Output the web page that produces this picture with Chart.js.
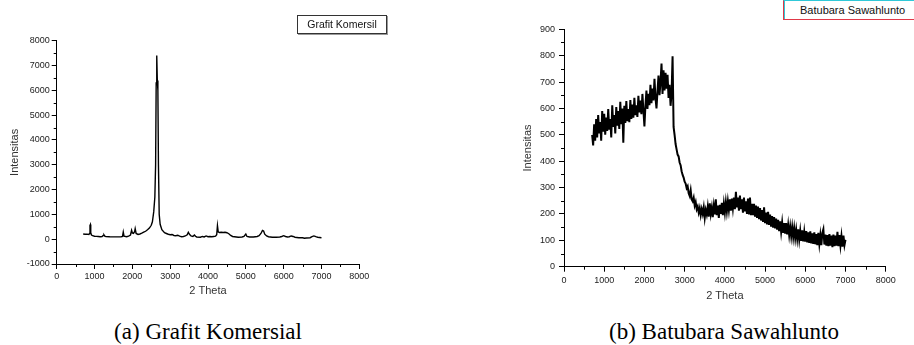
<!DOCTYPE html>
<html>
<head>
<meta charset="utf-8">
<script src="https://cdn.jsdelivr.net/npm/chart.js@4.4.1/dist/chart.umd.min.js"></script>
<style>
html,body{margin:0;padding:0;background:#fff;}
body{width:914px;height:345px;overflow:hidden;position:relative;font-family:"Liberation Sans",Arial,sans-serif;}
canvas{position:absolute;top:0;}
#c1{left:0;}
#c2{left:490px;}
.legend{position:absolute;background:#fff;white-space:nowrap;color:#111;box-sizing:border-box;}
#lg1{left:297px;top:15px;width:90px;height:19px;border:1px solid #333;box-shadow:1px 1px 0 #999;font-size:10.5px;line-height:17px;text-align:center;}
#lg2{left:783px;top:0;width:140px;height:20px;border-top:1px solid #30c8d8;border-left:1px solid #e03848;border-bottom:1px solid #e03848;box-shadow:inset 1px 0 0 #30c8d8;font-size:11px;line-height:18px;padding-left:16px;}
.cap{position:absolute;top:320px;font-family:"Liberation Serif","Times New Roman",serif;font-size:23px;line-height:23px;white-space:nowrap;transform:translateX(-50%);color:#000;}
</style>
</head>
<body>
<canvas id="c1" width="400" height="310"></canvas>
<canvas id="c2" width="424" height="310"></canvas>
<div class="legend" id="lg1">Grafit Komersil</div>
<div class="legend" id="lg2">Batubara Sawahlunto</div>
<div class="cap" style="left:208px;">(a) Grafit Komersial</div>
<div class="cap" style="left:724px;">(b) Batubara Sawahlunto</div>
<script>
// ---- Data: (a) Grafit Komersil ----
const grafitX = [
  700,750,800,850,870,880,890,900,920,950,
  1000,1050,1100,1150,1200,1230,1250,1270,1300,1400,
  1500,1600,1700,1740,1760,1780,1850,1900,1950,1980,
  2000,2030,2060,2075,2100,2150,2200,2250,2300,2350,
  2400,2450,2500,2530,2565,2595,2615,2630,2645,2660,
  2675,2690,2710,2735,2780,2850,2900,2950,3000,3050,
  3100,3150,3200,3250,3300,3350,3400,3450,3480,3510,
  3550,3600,3640,3670,3700,3800,3850,3900,3950,4000,
  4050,4100,4150,4200,4230,4250,4270,4300,4350,4400,
  4450,4500,4550,4600,4650,4700,4750,4800,4900,4950,
  5000,5030,5100,5200,5300,5350,5400,5440,5470,5500,
  5550,5600,5700,5800,5900,5950,6000,6050,6100,6150,
  6200,6250,6300,6400,6500,6550,6600,6700,6750,6800,
  6850,6900,6950,7000
];
const grafitY = [
  210,200,205,190,230,560,590,260,170,140,
  120,115,110,100,105,150,170,120,110,100,
  95,95,100,110,290,120,100,120,170,360,
  250,230,300,420,230,190,210,240,280,320,
  380,450,560,700,1100,1700,3000,6300,7400,6400,
  6000,3000,1000,600,380,260,230,200,180,190,
  150,140,160,120,100,110,130,180,280,200,
  130,110,170,120,90,80,110,90,130,100,
  110,100,110,120,180,550,300,270,280,270,
  280,260,220,150,110,100,90,80,90,110,
  210,110,90,90,110,140,230,350,330,200,
  130,100,80,80,90,110,140,110,90,100,
  130,110,80,60,60,40,50,60,100,130,
  100,80,70,60
];

// ---- Data: (b) Batubara Sawahlunto ----
const batubaraX = [
  700,725,750,775,800,825,850,875,
  900,925,950,975,1000,1025,1050,1075,
  1100,1125,1150,1175,1200,1225,1250,1275,
  1300,1325,1350,1375,1400,1425,1450,1475,
  1500,1525,1550,1575,1600,1625,1650,1675,
  1700,1725,1750,1775,1800,1825,1850,1875,
  1900,1925,1950,1975,2000,2025,2050,2075,
  2100,2125,2150,2175,2200,2225,2250,2275,
  2300,2325,2350,2375,2400,2425,2450,2475,
  2500,2525,2550,2575,2600,2625,2650,2675,
  2700,2725,2750,2775,2800,2825,2850,2875,
  2900,2925,2950,2975,3000,3025,3050,3075,
  3100,3125,3150,3175,3200,3225,3250,3275,
  3300,3325,3350,3375,3400,3425,3450,3475,
  3500,3525,3550,3575,3600,3625,3650,3675,
  3700,3725,3750,3775,3800,3825,3850,3875,
  3900,3925,3950,3975,4000,4025,4050,4075,
  4100,4125,4150,4175,4200,4225,4250,4275,
  4300,4325,4350,4375,4400,4425,4450,4475,
  4500,4525,4550,4575,4600,4625,4650,4675,
  4700,4725,4750,4775,4800,4825,4850,4875,
  4900,4925,4950,4975,5000,5025,5050,5075,
  5100,5125,5150,5175,5200,5225,5250,5275,
  5300,5325,5350,5375,5400,5425,5450,5475,
  5500,5525,5550,5575,5600,5625,5650,5675,
  5700,5725,5750,5775,5800,5825,5850,5875,
  5900,5925,5950,5975,6000,6025,6050,6075,
  6100,6125,6150,6175,6200,6225,6250,6275,
  6300,6325,6350,6375,6400,6425,6450,6475,
  6500,6525,6550,6575,6600,6625,6650,6675,
  6700,6725,6750,6775,6800,6825,6850,6875,
  6900,6925,6950,6975,7000
];
const batubaraY = [
  500,460,540,478,560,490,575,505,
  548,478,590,512,580,500,565,515,
  598,520,560,490,612,530,575,505,
  605,535,590,522,625,540,600,470,
  610,545,628,552,598,548,632,560,
  615,565,640,575,612,568,648,585,
  630,578,655,592,532,610,668,598,
  655,612,690,620,675,630,712,640,
  600,665,725,650,700,770,655,745,
  668,735,675,728,640,690,610,655,
  798,530,500,465,445,425,418,395,
  385,362,348,338,322,315,298,305,
  278,268,290,255,248,262,232,245,
  218,228,205,222,195,218,200,225,
  185,215,198,228,190,240,200,225,
  188,230,198,255,195,232,185,235,
  200,242,195,238,205,245,210,248,
  215,255,212,258,222,262,218,284,
  225,262,212,270,218,255,205,262,
  210,248,200,258,198,262,195,238,
  195,238,190,232,185,228,180,222,
  175,215,170,225,165,205,160,208,
  158,198,152,192,148,188,145,182,
  140,178,135,172,132,168,128,165,
  125,165,122,158,120,152,115,150,
  112,146,108,140,105,142,102,136,
  98,138,96,132,95,135,92,130,
  90,134,88,126,86,130,85,124,
  82,128,86,120,82,128,142,84,
  122,80,120,78,124,80,118,74,
  122,78,118,80,132,78,120,80,
  116,76,118,82,102
];

// ---- Axis settings ----
const xAxisTitle = '2 Theta';
const yAxisTitle = 'Intensitas';

const minorTicks = {
  id: 'minorTicks',
  afterDraw(chart, args, opts) {
    const ctx = chart.ctx;
    const xs = chart.scales.x, ys = chart.scales.y;
    ctx.save();
    ctx.strokeStyle = '#000';
    ctx.lineWidth = 1;
    ctx.beginPath();
    const yb = chart.chartArea.bottom;
    for (let v = xs.min + opts.xMinor; v < xs.max; v += opts.xMajor) {
      const px = Math.round(xs.getPixelForValue(v)) + 0.5;
      ctx.moveTo(px, yb); ctx.lineTo(px, yb + opts.len);
    }
    const xl = chart.chartArea.left;
    for (let v = ys.min + opts.yMinor; v < ys.max; v += opts.yMajor) {
      const py = Math.round(ys.getPixelForValue(v)) + 0.5;
      ctx.moveTo(xl, py); ctx.lineTo(xl - opts.len, py);
    }
    ctx.stroke();
    ctx.restore();
  }
};

function makeChart(id, xs, ys, cfg) {
  const pts = xs.map((x, i) => ({x: x, y: ys[i]}));
  const tickFont = {family: '"Liberation Sans", Arial, sans-serif', size: 9};
  const titleFont = {family: '"Liberation Sans", Arial, sans-serif', size: 11};
  const plain = v => String(v);
  return new Chart(document.getElementById(id), {
    type: 'scatter',
    data: {datasets: [{
      data: pts, showLine: true, borderColor: '#000', borderWidth: cfg.lw,
      pointRadius: 0, pointHoverRadius: 0, tension: 0, fill: false
    }]},
    options: {
      responsive: false, animation: false, devicePixelRatio: 1,
      layout: {padding: {left: 0, top: cfg.top, right: cfg.right, bottom: 0}},
      plugins: {legend: {display: false}, tooltip: {enabled: false},
        minorTicks: {xMinor: 500, xMajor: 1000, yMinor: cfg.yMinor, yMajor: cfg.yStep, len: 3}},
      scales: {
        x: {
          type: 'linear', min: 0, max: 8000,
          ticks: {stepSize: 1000, autoSkip: false, maxRotation: 0, color: '#222', font: tickFont, padding: cfg.xPad, callback: plain},
          grid: {drawOnChartArea: false, drawTicks: true, tickLength: 5, color: '#000'},
          border: {display: true, color: '#000', width: 1},
          title: {display: true, text: xAxisTitle, color: '#333', font: titleFont, padding: {top: 0, bottom: cfg.xTitlePad}},
          afterFit(s) { s.height = cfg.xHeight; }
        },
        y: {
          type: 'linear', min: cfg.yMin, max: cfg.yMax,
          ticks: {stepSize: cfg.yStep, autoSkip: false, color: '#222', font: tickFont, padding: cfg.yPad, callback: plain},
          grid: {drawOnChartArea: false, drawTicks: true, tickLength: 5, color: '#000'},
          border: {display: true, color: '#000', width: 1},
          title: {display: true, text: yAxisTitle, color: '#333', font: titleFont, padding: {top: cfg.yTitlePad, bottom: 0}},
          afterFit(s) { s.width = cfg.yWidth; }
        }
      }
    },
    plugins: [minorTicks]
  });
}

makeChart('c1', grafitX, grafitY, {
  lw: 1.4, top: 40.7, right: 40.7, yWidth: 56.7, xHeight: 46,
  yMin: -1000, yMax: 8000, yStep: 1000, yMinor: 500,
  xPad: 2, yPad: 2, xTitlePad: 12, yTitlePad: 8.4
});
makeChart('c2', batubaraX, batubaraY, {
  lw: 2, top: 29.3, right: 28.3, yWidth: 74, xHeight: 43.3,
  yMin: 0, yMax: 900, yStep: 100, yMinor: 50,
  xPad: 3, yPad: 4, xTitlePad: 7, yTitlePad: 31.7
});
</script>
</body>
</html>
